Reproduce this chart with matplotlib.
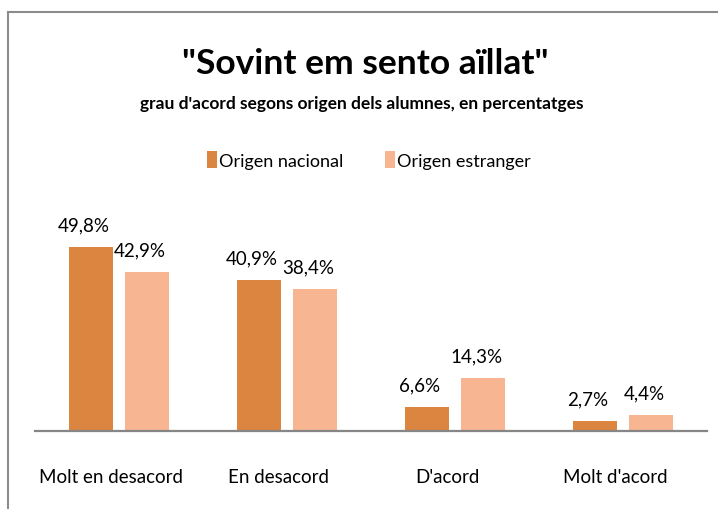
import matplotlib.pyplot as plt
import numpy as np
from matplotlib.lines import Line2D

# data
categories = ["Molt en desacord", "En desacord", "D'acord", "Molt d'acord"]
nacional = [49.8, 40.9, 6.6, 2.7]
estranger = [42.9, 38.4, 14.3, 4.4]
series_names = ["Origen nacional", "Origen estranger"]

c_dark = "#DB8540"
c_light = "#F8B592"

plt.rcParams['font.family'] = ['Lato', 'DejaVu Sans']

W, H = 718, 510
fig = plt.figure(figsize=(W / 100, H / 100), dpi=100)

# axes placed in pixel terms
ax_left, ax_right, ax_base, ax_top = 35, 707, 432, 200
ax = fig.add_axes([ax_left / W, (H - ax_base) / H, (ax_right - ax_left) / W, (ax_base - ax_top) / H])
px_per_unit = 3.695
ax.set_ylim(0, (ax_base - ax_top) / px_per_unit)
ax.set_xlim(-0.5, 3.5)

x = np.arange(len(categories))
w = 0.262
off = 0.167
b1 = ax.bar(x - off, nacional, w, color=c_dark, label=series_names[0])
b2 = ax.bar(x + off, estranger, w, color=c_light, label=series_names[1])

for bars, vals in [(b1, nacional), (b2, estranger)]:
    for rect, v in zip(bars, vals):
        ax.annotate(f"{v:.1f}%".replace(".", ","),
                    (rect.get_x() + rect.get_width() / 2, rect.get_height()),
                    xytext=(-5, 16), textcoords="offset points",
                    ha="center", va="center", fontsize=13.5)

# category labels sit a little left of the group centres, as in the original
ax.set_xticks(x - 8 / 168)
ax.set_xticklabels(categories, fontsize=13.5)
ax.tick_params(axis="x", length=0, pad=27)
ax.set_yticks([])
for s in ["left", "right", "top"]:
    ax.spines[s].set_visible(False)
ax.spines["bottom"].set_color("#868686")
ax.spines["bottom"].set_linewidth(1.6)

# titles
fig.text(365 / W, 1 - 64 / H, '"Sovint em sento aïllat"', ha="center", va="center",
         fontsize=25.5, fontweight="bold")
fig.text(362 / W, 1 - 104 / H, "grau d'acord segons origen dels alumnes, en percentatges",
         ha="center", va="center", fontsize=12.5, fontweight="bold")

# legend
fig.legend(handles=[b1, b2], labels=series_names, loc="center",
           bbox_to_anchor=(369 / W, 1 - 161 / H), ncol=2, frameon=False,
           fontsize=13, handlelength=0.55, handleheight=1.0, handletextpad=0.1,
           columnspacing=2.3)

# outer frame
fig.add_artist(Line2D([8 / W, 8 / W], [0, 1 - 13 / H], color="#8c8c8c", lw=1.5))
fig.add_artist(Line2D([8 / W, 1], [1 - 13 / H, 1 - 13 / H], color="#8c8c8c", lw=1.5))

fig.savefig("out.png", dpi=100)
